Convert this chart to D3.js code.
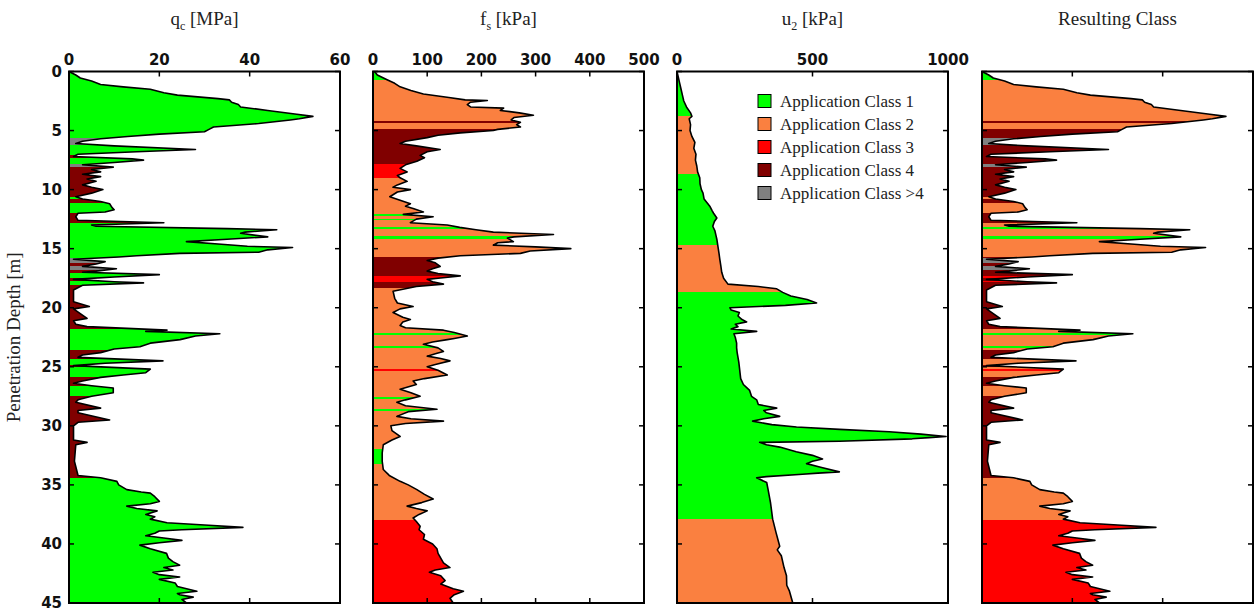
<!DOCTYPE html>
<html><head><meta charset="utf-8">
<script src="https://cdn.jsdelivr.net/npm/d3@7"></script>
<style>body{margin:0;background:#fff}</style>
</head><body><svg id="c" width="1258" height="615"></svg>
<script>
// ---------- DATA ----------
const depthTicks = [0,5,10,15,20,25,30,35,40,45];
const qcTicks = [0,20,40,60];
const fsTicks = [0,100,200,300,400,500];
const u2Ticks = [0,500,1000];
const classLabels = ["Application Class 1","Application Class 2","Application Class 3","Application Class 4","Application Class >4"];

const qcDepth = [0,0.3,0.55,0.8,1.1,1.3,1.5,1.8,2.0,2.3,2.4,2.6,2.8,3.0,3.3,3.6,3.8,4.0,4.1,4.4,4.7,4.9,5.1,5.3,5.5,5.7,5.9,6.1,6.3,6.6,6.8,7.0,7.2,7.4,7.5,7.7,7.9,8.1,8.3,8.5,8.7,8.9,9.1,9.3,9.6,9.8,10.0,10.3,10.6,10.8,11.0,11.2,11.5,11.7,11.9,12.0,12.3,12.6,12.8,13.0,13.1,13.3,13.4,13.6,13.7,14.0,14.2,14.4,14.6,14.8,14.9,15.1,15.3,15.4,15.6,15.7,15.9,16.1,16.3,16.5,16.7,16.9,17.0,17.2,17.4,17.6,17.8,17.9,18.1,18.5,19.5,19.9,20.1,20.9,21.1,21.4,21.6,21.9,22.0,22.2,22.4,22.7,23.0,23.3,23.5,23.8,24.0,24.2,24.5,24.7,24.9,25.2,25.5,25.7,25.9,26.2,26.4,26.6,26.8,27.2,27.5,27.8,28.0,28.5,28.7,28.9,29.5,29.7,30.0,31.2,31.4,31.6,33.0,34.2,34.4,34.7,35.0,35.4,35.6,35.7,36.0,36.4,36.6,36.8,37.0,37.2,37.5,37.7,37.9,38.2,38.4,38.6,38.8,38.9,39.1,39.3,39.5,39.7,39.9,40.1,40.4,40.8,41.2,41.5,41.8,42.0,42.2,42.4,42.6,42.8,43.0,43.3,43.6,44.0,44.2,44.3,44.5,44.7,45.0];
const qcMPa = [0,1.5,2.5,5,7,12,18,21,24,33,35.5,36,37.5,38,44,50,54,51,49,42,32,31,30,20,13,7,3,1.5,10,28,15,2,1,14,16.5,10,3,9.8,5,7,3,7,4,6,3,5,7.5,5,1.5,3,7,9,9.5,10,8,2,1.5,2,21,5,6,35,46,39,38,44,35,26,33,39.5,49.5,44,42,24.5,15,11,1,8,6,3,10.5,6,3,20,10,1,10,16.5,3,1,1,4.5,1,4,1,1.5,4,21.7,17,33.4,28,24.6,18,15.7,10,7,3,2,20.8,8,1,18,17,12,7,3,1,5,9.8,9.8,5,2,1.5,7,2,2,9,2,1,1,4,1.5,1.2,2,7,10.6,11,12.8,16,18,19,20,18,12.8,15,19.5,17,19,18,21.7,30,38.5,25,20,19,17,21,25,20,15.7,18,21.6,22,23,24.5,21,23,18.6,20,24.5,20,23.5,24,28.3,24,24.5,27.5,25,26];
const qcClassTop = [0,5.6,6.2,7.05,7.3,7.8,8.1,10.6,10.8,11.1,12.0,12.8,15.75,16.2,16.5,16.8,17.05,17.45,17.75,18.05,21.8,23.6,24.3,24.85,25.05,25.85,26.6,27.45,34.4];
const qcClass    = [1,5,1,4,1,5,4,1,4,1,4,1,5,4,5,4,1,4,1,4,1,4,1,4,1,4,1,4,1];

const fsDepth = [0,0.3,0.7,1.0,1.3,1.6,1.9,2.2,2.4,2.45,2.6,2.8,3.0,3.1,3.3,3.5,3.7,3.9,4.1,4.3,4.5,4.7,4.9,5.0,5.2,5.4,5.6,5.9,6.1,6.3,6.6,6.8,7.1,7.3,7.6,7.9,8.2,8.5,8.8,9.0,9.3,9.6,9.8,10.0,10.2,10.6,10.9,11.2,11.4,11.6,11.9,12.1,12.3,12.5,12.8,13.0,13.2,13.4,13.6,13.8,14.0,14.1,14.4,14.5,14.7,14.85,15.0,15.2,15.4,15.6,15.8,16.0,16.2,16.5,16.7,16.9,17.1,17.3,17.5,17.6,17.8,18.0,18.2,18.6,19.2,19.6,19.9,20.1,20.4,20.8,21.0,21.2,21.5,21.7,21.9,22.1,22.4,22.6,22.7,22.9,23.1,23.4,23.7,23.9,24.1,24.3,24.5,24.8,25.0,25.3,25.7,26.0,26.2,26.5,26.9,27.2,27.5,27.8,28.0,28.3,28.6,28.8,29.2,29.4,29.6,29.8,30.0,30.4,30.9,31.2,31.6,32.3,33.0,33.7,34.2,34.7,35.0,35.4,35.8,36.2,36.5,36.8,37.0,37.2,37.5,37.8,38.1,38.5,38.8,39.2,39.6,40.0,40.4,40.8,41.2,41.6,42.0,42.2,42.4,42.7,43.1,43.4,43.8,44.0,44.3,44.6,45.0];
const fsKPa = [3,8,26,40,50,70,93,140,170,211,180,174,180,241,235,270,296,260,255,272,265,272,230,222,161,120,100,60,50,80,124,100,87,95,81,60,50,63,45,50,63,45,37,69,45,31,50,69,60,74,93,56,111,80,69,137,160,190,222,333,260,248,259,230,222,300,365,290,272,161,120,100,115,124,110,100,120,161,120,100,110,130,80,37,40,45,74,50,37,55,69,55,50,60,130,150,174,150,137,110,93,120,130,115,100,125,142,115,100,120,137,95,74,80,50,70,87,60,44,60,118,65,44,70,130,60,33,35,50,35,19,17,17,19,30,50,65,81,95,111,90,63,80,100,85,74,80,87,85,95,93,110,118,120,125,130,142,115,104,125,133,125,148,167,150,142,148];
const fsClassTop = [0,0.7,4.15,4.35,4.9,7.85,9.0,12.05,12.2,12.45,12.6,13.2,13.3,13.95,14.15,15.7,17.35,17.85,18.3,22.15,22.35,23.2,23.45,25.2,25.35,27.55,27.7,28.6,28.75,32.0,33.2,37.95];
const fsClass    = [1,2,4,2,4,3,2,1,2,1,2,1,2,1,2,4,3,4,2,1,2,1,2,3,2,1,2,1,2,1,2,3];

const u2Depth = [0,0.5,1.0,1.5,2.0,2.5,3.0,3.5,3.8,4.0,4.5,5.0,5.5,6.0,6.5,7.0,7.5,8.0,8.5,9.0,9.5,10.0,10.3,10.8,11.4,11.8,12.0,12.4,12.7,13.1,13.5,14.0,14.2,14.8,15.4,15.9,16.5,17.0,17.5,18.0,18.2,18.4,18.7,19.0,19.3,19.6,19.8,20.0,20.2,20.4,20.7,21.0,21.2,21.4,21.6,21.8,22.0,22.2,22.5,23.0,23.4,23.8,24.2,24.6,25.2,26.0,26.5,27.0,27.5,27.8,28.2,28.5,28.7,28.9,29.2,29.4,29.6,29.9,30.1,30.3,30.5,30.7,30.9,31.0,31.1,31.3,31.4,31.6,31.8,32.2,32.5,32.8,33.0,33.2,33.5,33.9,34.0,34.1,34.3,34.4,34.8,35.5,36.5,37.9,39.0,40.2,40.5,41.0,42.0,42.7,43.5,44.0,44.9,45.0];
const u2KPa = [0,5,10,15,20,25,35,50,55,45,50,48,55,66,62,70,68,73,76,84,85,90,96,100,121,130,135,147,138,132,140,145,147,151,155,158,162,165,172,188,300,368,390,420,480,515,400,195,200,230,225,240,257,215,225,200,294,210,215,220,220,222,225,228,231,235,245,268,275,294,300,368,320,330,379,320,279,350,441,600,783,900,993,930,868,600,305,330,379,440,500,537,500,478,530,599,520,463,330,294,331,337,345,353,365,379,370,385,395,404,405,415,426,427];
const u2ClassTop = [0,3.8,8.7,14.7,18.7,37.9];
const u2Class    = [1,2,1,2,1,2];

const classColors = ["#00ff00","#fa8040","#ff0000","#800000","#808080"];

// ---------- LAYOUT ----------
const svg = d3.select("#c");
const top0 = 71.5, bot0 = 603, W = 271;
const lefts = [69, 373, 677, 982];
const y = d3.scaleLinear().domain([0,45]).range([top0, bot0]);
const serif = "'Liberation Serif','Times New Roman',serif";
const tickFont = "'DejaVu Sans',sans-serif";

function classAt(tops, cls, d){
  let c = cls[0];
  for(let i=0;i<tops.length;i++){ if(d>=tops[i]) c = cls[i]; }
  return c;
}
// resulting class = highest class among the three parameters
const allBreaks = Array.from(new Set([...qcClassTop,...fsClassTop,...u2ClassTop])).sort((a,b)=>a-b);
const resTop = [], resClass = [];
allBreaks.forEach((b,i)=>{
  const nb = i<allBreaks.length-1 ? allBreaks[i+1] : 45;
  const m = (b+nb)/2;
  const c = Math.max(classAt(qcClassTop,qcClass,m), classAt(fsClassTop,fsClass,m), classAt(u2ClassTop,u2Class,m));
  if(resClass.length && resClass[resClass.length-1]===c) return;
  resTop.push(b); resClass.push(c);
});

let clipN = 0;
function panel(pi, domain, ticks, labelTicks, depth, vals, tops, cls){
  const left = lefts[pi];
  const x = d3.scaleLinear().domain(domain).range([left, left+W]);
  const data = depth.map((d,i)=>({d, v: vals[i]}));
  const g = svg.append("g");
  const area = d3.area().y(p=>y(p.d)).x0(x(0)).x1(p=>x(p.v));
  tops.forEach((t,k)=>{
    const b = k<tops.length-1 ? tops[k+1] : 45;
    const id = "cp"+(clipN++);
    const y0 = Math.round(y(t)), y1 = Math.round(y(b));
    svg.append("clipPath").attr("id",id).append("rect")
      .attr("x",left).attr("y",y0).attr("width",W).attr("height",Math.max(0,y1-y0));
    g.append("path").attr("d",area(data)).attr("fill",classColors[cls[k]-1])
      .attr("clip-path",`url(#${id})`);
  });
  g.append("path").attr("d", d3.line().x(p=>x(p.v)).y(p=>y(p.d))(data))
    .attr("fill","none").attr("stroke","#000").attr("stroke-width",1.6).attr("stroke-linejoin","round");
  // frame
  svg.append("rect").attr("x",left).attr("y",top0).attr("width",W).attr("height",bot0-top0)
    .attr("fill","none").attr("stroke","#000").attr("stroke-width",2);
  // x ticks top & bottom (inward)
  const tl = 5;
  ticks.forEach(t=>{
    const xx = x(t);
    svg.append("line").attr("x1",xx).attr("x2",xx).attr("y1",top0).attr("y2",top0+tl).attr("stroke","#000").attr("stroke-width",1.5);
    svg.append("line").attr("x1",xx).attr("x2",xx).attr("y1",bot0).attr("y2",bot0-tl).attr("stroke","#000").attr("stroke-width",1.5);
    if(labelTicks){
      svg.append("text").attr("x",xx).attr("y",65).attr("text-anchor","middle")
        .attr("font-family",tickFont).attr("font-weight","bold").attr("font-size",15).attr("fill","#111").text(t);
    }
  });
  // y ticks left & right (inward)
  depthTicks.forEach(t=>{
    const yy = y(t);
    svg.append("line").attr("x1",left).attr("x2",left+tl).attr("y1",yy).attr("y2",yy).attr("stroke","#000").attr("stroke-width",1.5);
    svg.append("line").attr("x1",left+W).attr("x2",left+W-tl).attr("y1",yy).attr("y2",yy).attr("stroke","#000").attr("stroke-width",1.5);
  });
  return x;
}

panel(0,[0,60],qcTicks,true,qcDepth,qcMPa,qcClassTop,qcClass);
panel(1,[0,500],fsTicks,true,fsDepth,fsKPa,fsClassTop,fsClass);
panel(2,[0,1000],u2Ticks,true,u2Depth,u2KPa,u2ClassTop,u2Class);
panel(3,[0,60],qcTicks,false,qcDepth,qcMPa,resTop,resClass);

// depth tick labels
depthTicks.forEach(t=>{
  svg.append("text").attr("x",62).attr("y",y(t)).attr("dy","0.36em").attr("text-anchor","end")
    .attr("font-family",tickFont).attr("font-weight","bold").attr("font-size",15).attr("fill","#111").text(t);
});

// titles
function title(cx, main, sub, rest){
  const t = svg.append("text").attr("x",cx).attr("y",25).attr("text-anchor","middle")
    .attr("font-family",serif).attr("font-size",19).attr("fill","#222");
  t.append("tspan").text(main);
  if(sub){ t.append("tspan").attr("font-size",12).attr("dy",5).text(sub); t.append("tspan").attr("dy",-5).text(rest); }
}
title(lefts[0]+W/2, "q", "c", " [MPa]");
title(lefts[1]+W/2, "f", "s", " [kPa]");
title(lefts[2]+W/2, "u", "2", " [kPa]");
title(lefts[3]+W/2, "Resulting Class", null, null);

svg.append("text").attr("transform",`translate(20,${(top0+bot0)/2}) rotate(-90)`).attr("text-anchor","middle")
  .attr("font-family",serif).attr("font-size",19).attr("fill","#222").text("Penetration Depth [m]");

// legend
const lg = svg.append("g").attr("transform","translate(758,101)");
classLabels.forEach((l,i)=>{
  lg.append("rect").attr("x",0).attr("y",i*23-6.5).attr("width",13).attr("height",13)
    .attr("fill",classColors[i]).attr("stroke","#000").attr("stroke-width",1);
  lg.append("text").attr("x",22).attr("y",i*23).attr("dy","0.35em")
    .attr("font-family",serif).attr("font-size",17).attr("fill","#222").text(l);
});
</script></body></html>
